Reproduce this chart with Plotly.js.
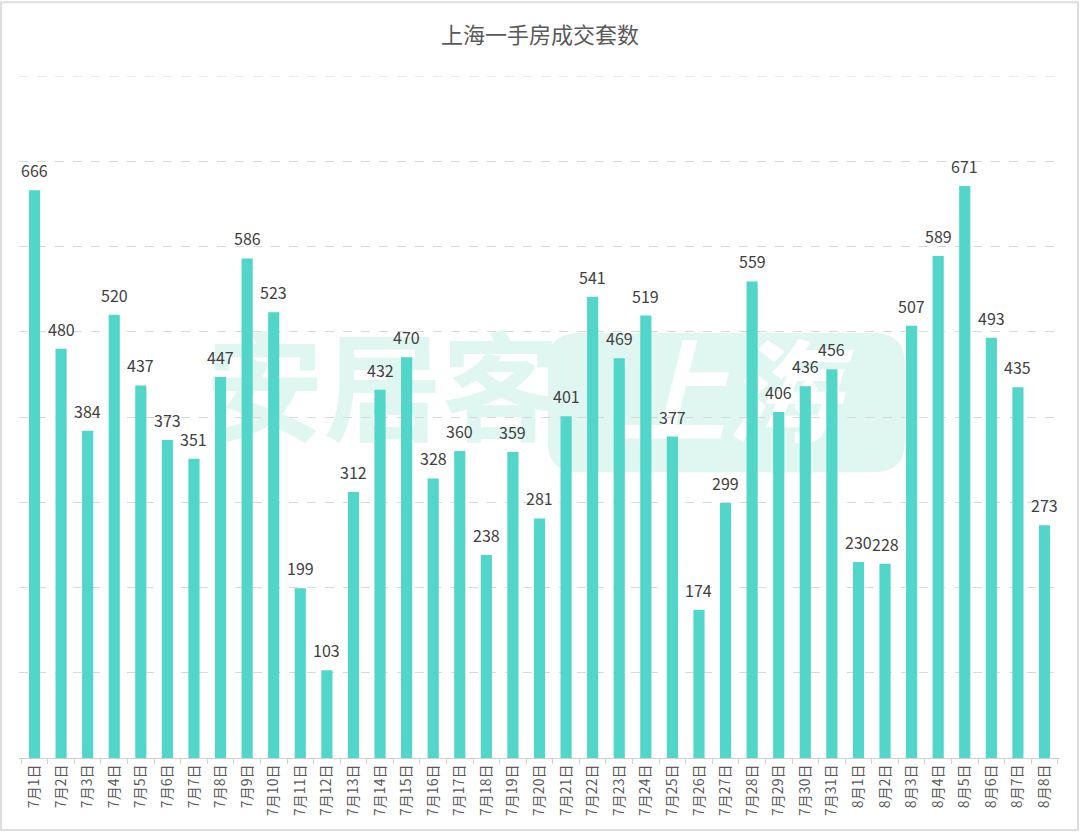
<!DOCTYPE html>
<html>
<head>
<meta charset="utf-8">
<script src="https://cdn.plot.ly/plotly-3.0.1.min.js"></script>
<style>
html,body{margin:0;padding:0;background:#fff;}
#chart{width:1080px;height:832px;}
</style>
</head>
<body>
<div id="chart"></div>
<script>
const categories = ["7月1日","7月2日","7月3日","7月4日","7月5日","7月6日","7月7日","7月8日","7月9日","7月10日",
"7月11日","7月12日","7月13日","7月14日","7月15日","7月16日","7月17日","7月18日","7月19日","7月20日",
"7月21日","7月22日","7月23日","7月24日","7月25日","7月26日","7月27日","7月28日","7月29日","7月30日","7月31日",
"8月1日","8月2日","8月3日","8月4日","8月5日","8月6日","8月7日","8月8日"];
const deals = [666,480,384,520,437,373,351,447,586,523,
199,103,312,432,470,328,360,238,359,281,
401,541,469,519,377,174,299,559,406,436,456,
230,228,507,589,671,493,435,273];
const titleText = "上海一手房成交套数";
const gridTop = 800;

const font = '"Noto Sans CJK SC", "Noto Sans", sans-serif';

const trace = {
  type: 'bar',
  x: categories,
  y: deals,
  marker: {color: '#52d6c9'},
  hoverinfo: 'x+y'
};

const labels = categories.map((c, i) => ({
  x: c, y: deals[i], xref: 'x', yref: 'y',
  text: String(deals[i]), showarrow: false,
  yanchor: 'bottom', yshift: 6,
  font: {family: font, size: 16, color: '#404040'}
}));

function rr(x0, y0, x1, y1, rx, ry) {
  return `M ${x0+rx},${y0} L ${x1-rx},${y0} Q ${x1},${y0} ${x1},${y0+ry} L ${x1},${y1-ry} Q ${x1},${y1} ${x1-rx},${y1} L ${x0+rx},${y1} Q ${x0},${y1} ${x0},${y1-ry} L ${x0},${y0+ry} Q ${x0},${y0} ${x0+rx},${y0} Z`;
}

const layout = {
  width: 1080, height: 832,
  margin: {l: 19, r: 20, t: 76, b: 74, pad: 0},
  paper_bgcolor: '#ffffff',
  plot_bgcolor: '#ffffff',
  title: {text: titleText, x: 0.5, xanchor: 'center', y: 0.957, yanchor: 'middle',
          font: {family: font, size: 22, color: '#595959'}},
  bargap: 0.58,
  showlegend: false,
  xaxis: {
    type: 'category',
    tickangle: -90,
    tickfont: {family: font, size: 14, color: '#595959'},
    showline: true, linecolor: '#d0d0d0', linewidth: 1,
    ticks: 'outside', tickson: 'boundaries', ticklen: 5, tickcolor: '#d0d0d0',
    showgrid: false, fixedrange: true
  },
  yaxis: {
    range: [0, 800], dtick: 100, tick0: 0,
    showticklabels: false,
    showgrid: true, gridcolor: '#d9d9d9', griddash: 'dash', gridwidth: 1,
    zeroline: false, showline: false, ticks: '', fixedrange: true
  },
  annotations: labels,
  shapes: [
    {type: 'line', xref: 'paper', yref: 'y', layer: 'below',
     x0: 0, x1: 1, y0: gridTop, y1: gridTop,
     line: {color: '#d9d9d9', width: 1, dash: 'dash'}},
    {type: 'rect', xref: 'paper', yref: 'paper', layer: 'below',
     x0: 0.179, x1: 0.52, y0: 0.42, y1: 0.63,
     line: {width: 0}, fillcolor: 'rgba(0,0,0,0)',
     label: {text: '<b>安居客</b>', font: {family: font, size: 118, color: '#e0f7f1'},
             textposition: 'middle center'}},
    {type: 'path', xref: 'paper', yref: 'paper', layer: 'below',
     path: rr(0.508, 0.419, 0.851, 0.623, 0.03, 0.045),
     line: {width: 0}, fillcolor: '#e0f7f1',
     label: {text: '<b><i>上海</i></b>', font: {family: font, size: 112, color: '#ffffff', style: 'italic'},
             textposition: 'middle center'}},
    {type: 'rect', xref: 'paper', yref: 'paper', layer: 'above',
     x0: -0.0173, x1: 1.0173, y0: -0.1056, y1: 1.108,
     line: {color: '#dedede', width: 2}, fillcolor: 'rgba(0,0,0,0)'}
  ]
};

Plotly.newPlot('chart', [trace], layout, {displayModeBar: false, staticPlot: true});
</script>
</body>
</html>
